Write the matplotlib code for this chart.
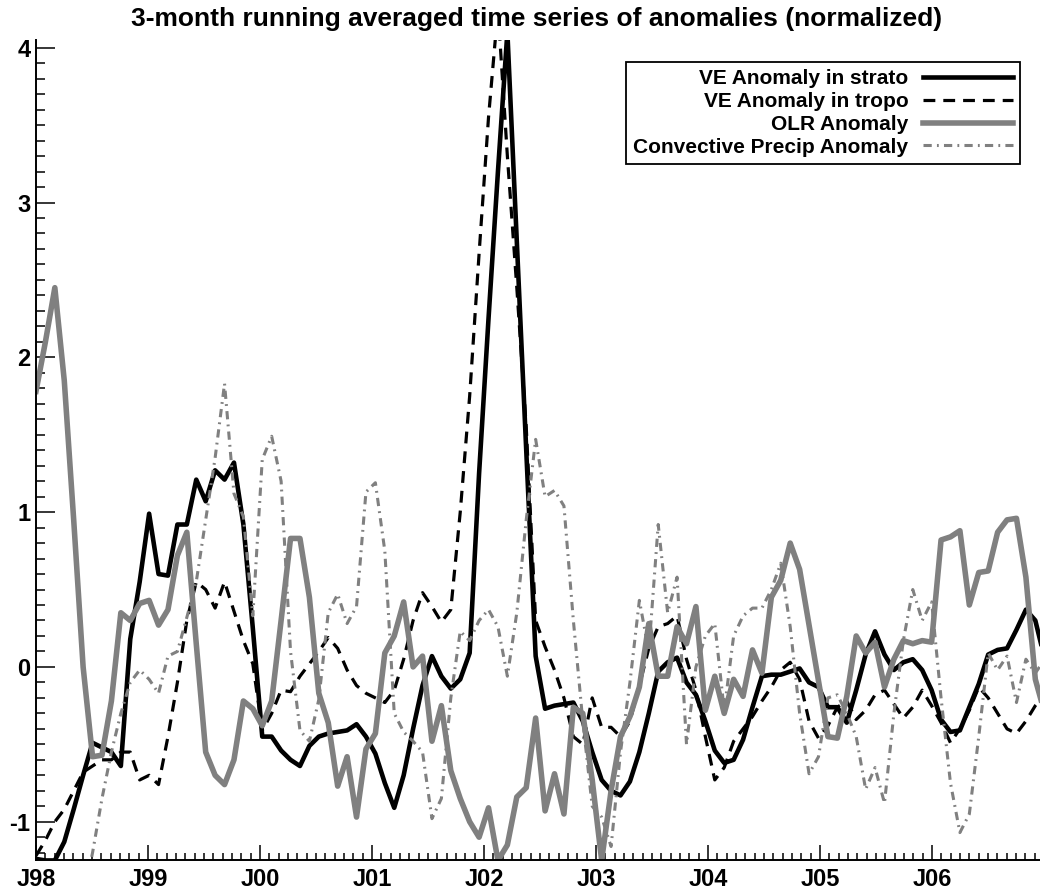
import numpy as np
import matplotlib.pyplot as plt
from matplotlib.ticker import MultipleLocator

plt.rcParams['font.family'] = ['Liberation Sans', 'DejaVu Sans']
plt.rcParams['font.weight'] = 'bold'
plt.rcParams['axes.unicode_minus'] = False

# normalized anomalies (3-month running means), one sample per step from Jan 1998
strato = [-1.24, -1.25, -1.25, -1.13, -0.92, -0.70, -0.49, -0.52, -0.55, -0.64,
          0.18, 0.55, 0.99, 0.60, 0.59, 0.92, 0.92, 1.21, 1.07, 1.27,
          1.21, 1.32, 0.92, 0.25, -0.45, -0.45, -0.54, -0.60, -0.64, -0.51,
          -0.45, -0.43, -0.42, -0.41, -0.37, -0.45, -0.56, -0.75, -0.91, -0.70,
          -0.40, -0.12, 0.07, -0.06, -0.14, -0.08, 0.09, 1.25, 2.25, 3.20,
          4.10, 2.75, 1.40, 0.07, -0.27, -0.25, -0.24, -0.23, -0.35, -0.55,
          -0.73, -0.80, -0.83, -0.74, -0.55, -0.30, -0.03, 0.03, 0.06, -0.10,
          -0.18, -0.35, -0.54, -0.62, -0.60, -0.47, -0.26, -0.06, -0.05, -0.05,
          -0.03, -0.01, -0.10, -0.13, -0.26, -0.26, -0.36, -0.15, 0.08, 0.23,
          0.08, -0.02, 0.03, 0.05, -0.02, -0.15, -0.34, -0.42, -0.41, -0.26,
          -0.11, 0.08, 0.11, 0.12, 0.24, 0.37, 0.30, 0.05]

tropo = [-1.22, -1.12, -1.00, -0.92, -0.80, -0.68, -0.64, -0.60, -0.60, -0.55,
         -0.55, -0.73, -0.70, -0.76, -0.45, -0.10, 0.30, 0.55, 0.50, 0.38,
         0.55, 0.36, 0.17, 0.02, -0.41, -0.30, -0.15, -0.16, -0.06, 0.02,
         0.10, 0.19, 0.12, -0.02, -0.12, -0.17, -0.20, -0.23, -0.15, 0.05,
         0.30, 0.48, 0.39, 0.29, 0.37, 1.00, 1.75, 2.67, 3.55, 4.25,
         3.30, 2.45, 1.55, 0.30, 0.13, -0.02, -0.20, -0.45, -0.50, -0.20,
         -0.39, -0.39, -0.45, -0.35, -0.12, 0.12, 0.26, 0.28, 0.33, 0.05,
         -0.15, -0.45, -0.73, -0.65, -0.48, -0.40, -0.32, -0.22, -0.13, -0.02,
         0.03, -0.08, -0.35, -0.46, -0.38, -0.26, -0.22, -0.34, -0.28, -0.18,
         -0.15, -0.24, -0.33, -0.26, -0.15, -0.25, -0.36, -0.49, -0.40, -0.28,
         -0.13, -0.20, -0.30, -0.40, -0.43, -0.35, -0.25, -0.18]

olr = [1.78, 2.10, 2.45, 1.85, 0.95, 0.00, -0.58, -0.57, -0.22, 0.35,
       0.30, 0.41, 0.43, 0.27, 0.37, 0.72, 0.87, 0.15, -0.55, -0.70,
       -0.76, -0.60, -0.22, -0.27, -0.38, -0.22, 0.30, 0.83, 0.83, 0.45,
       -0.17, -0.36, -0.77, -0.58, -0.97, -0.53, -0.43, 0.09, 0.20, 0.42,
       0.00, 0.07, -0.48, -0.25, -0.67, -0.85, -1.00, -1.10, -0.91, -1.25,
       -1.15, -0.84, -0.78, -0.33, -0.93, -0.69, -0.95, -0.26, -0.30, -0.73,
       -1.25, -0.80, -0.45, -0.32, -0.13, 0.28, -0.06, -0.06, 0.26, 0.15,
       0.39, -0.28, -0.06, -0.30, -0.08, -0.19, 0.11, -0.04, 0.45, 0.56,
       0.80, 0.63, 0.27, -0.09, -0.45, -0.46, -0.19, 0.20, 0.09, 0.16,
       -0.13, 0.05, 0.17, 0.15, 0.17, 0.16, 0.82, 0.84, 0.88, 0.40,
       0.61, 0.62, 0.87, 0.95, 0.96, 0.58, -0.08, -0.30]

precip = [-1.60, -1.70, -1.80, -1.80, -1.70, -1.50,
          -1.20, -0.85, -0.55, -0.30, -0.10, -0.02, -0.08, -0.17, 0.07, 0.10,
          0.32, 0.55, 0.95, 1.35, 1.83, 1.12, 0.97, 0.33, 1.34, 1.49,
          1.20, 0.10, -0.41, -0.48, -0.21, 0.35, 0.47, 0.28, 0.39, 1.13,
          1.19, 0.75, -0.30, -0.42, -0.48, -0.55, -0.98, -0.85, -0.20, 0.23,
          0.17, 0.30, 0.37, 0.26, -0.06, 0.35, 0.95, 1.47, 1.10, 1.14,
          1.04, 0.30, -0.35, -0.90, -0.97, -1.16, -0.55, -0.10, 0.43, 0.10,
          0.92, 0.35, 0.58, -0.50, 0.00, 0.20, 0.28, -0.28, 0.20, 0.33,
          0.38, 0.38, 0.50, 0.67, 0.26, -0.30, -0.69, -0.58, -0.20, -0.18,
          -0.30, -0.45, -0.79, -0.65, -0.88, -0.30, 0.17, 0.50, 0.30, 0.42,
          -0.20, -0.75, -1.07, -0.95, -0.45, 0.09, -0.02, 0.07, -0.23, 0.05,
          -0.04, 0.05]

labels = ['VE Anomaly in strato', 'VE Anomaly in tropo',
          'OLR Anomaly', 'Convective Precip Anomaly']
years = [1998, 1999, 2000, 2001, 2002, 2003, 2004, 2005, 2006]
year_labels = ['J98', 'J99', 'J00', 'J01', 'J02', 'J03', 'J04', 'J05', 'J06']

t = 1998 + np.arange(len(strato)) / 11.88   # sample spacing in years

gray = '#808080'
fig = plt.figure(figsize=(10.4, 8.96), dpi=100)
ax = fig.add_axes([0.0346, 0.0402, 0.9654, 0.9152])

ax.plot(t, strato, color='black', lw=3.3, label=labels[0])
ax.plot(t, tropo, color='black', lw=2.3, linestyle=(0, (3.7, 2.5)), label=labels[1])
ax.plot(t, olr, color=gray, lw=4.0, label=labels[2])
ax.plot(t, precip, color=gray, lw=2.2, linestyle=(0, (2.7, 1.7, 0.6, 1.7)), label=labels[3])

ax.set_xlim(1998, 1998 + 1004 / 112)
ax.set_ylim(-1.247, 4.05)

ax.set_xticks(years)
ax.set_xticklabels(year_labels)
ax.xaxis.set_minor_locator(MultipleLocator(1 / 12))
ax.set_yticks([-1, 0, 1, 2, 3, 4])
ax.yaxis.set_minor_locator(MultipleLocator(0.1))

ax.tick_params(axis='both', which='both', direction='in', width=1.1, labelsize=17)
ax.tick_params(axis='y', which='major', length=13.5, pad=4)
ax.tick_params(axis='y', which='minor', length=6.5)
ax.tick_params(axis='x', which='major', length=10.5, pad=6)
ax.tick_params(axis='x', which='minor', length=5)

for side in ['top', 'right']:
    ax.spines[side].set_visible(False)
for side in ['left', 'bottom']:
    ax.spines[side].set_linewidth(1.4)

leg = ax.legend(loc='upper right', bbox_to_anchor=(0.980, 0.973), borderaxespad=0,
                markerfirst=False, fontsize=15, handlelength=4.3, handletextpad=0.7,
                labelspacing=0.18, borderpad=0.35, fancybox=False, framealpha=1)
leg.get_frame().set_edgecolor('black')
leg.get_frame().set_linewidth(1.3)

fig.text(537 / 1040, 1 - 19 / 896, '3-month running averaged time series of anomalies (normalized)',
         ha='center', va='center', fontsize=19, fontweight='bold')

fig.savefig('out.png', dpi=100)
